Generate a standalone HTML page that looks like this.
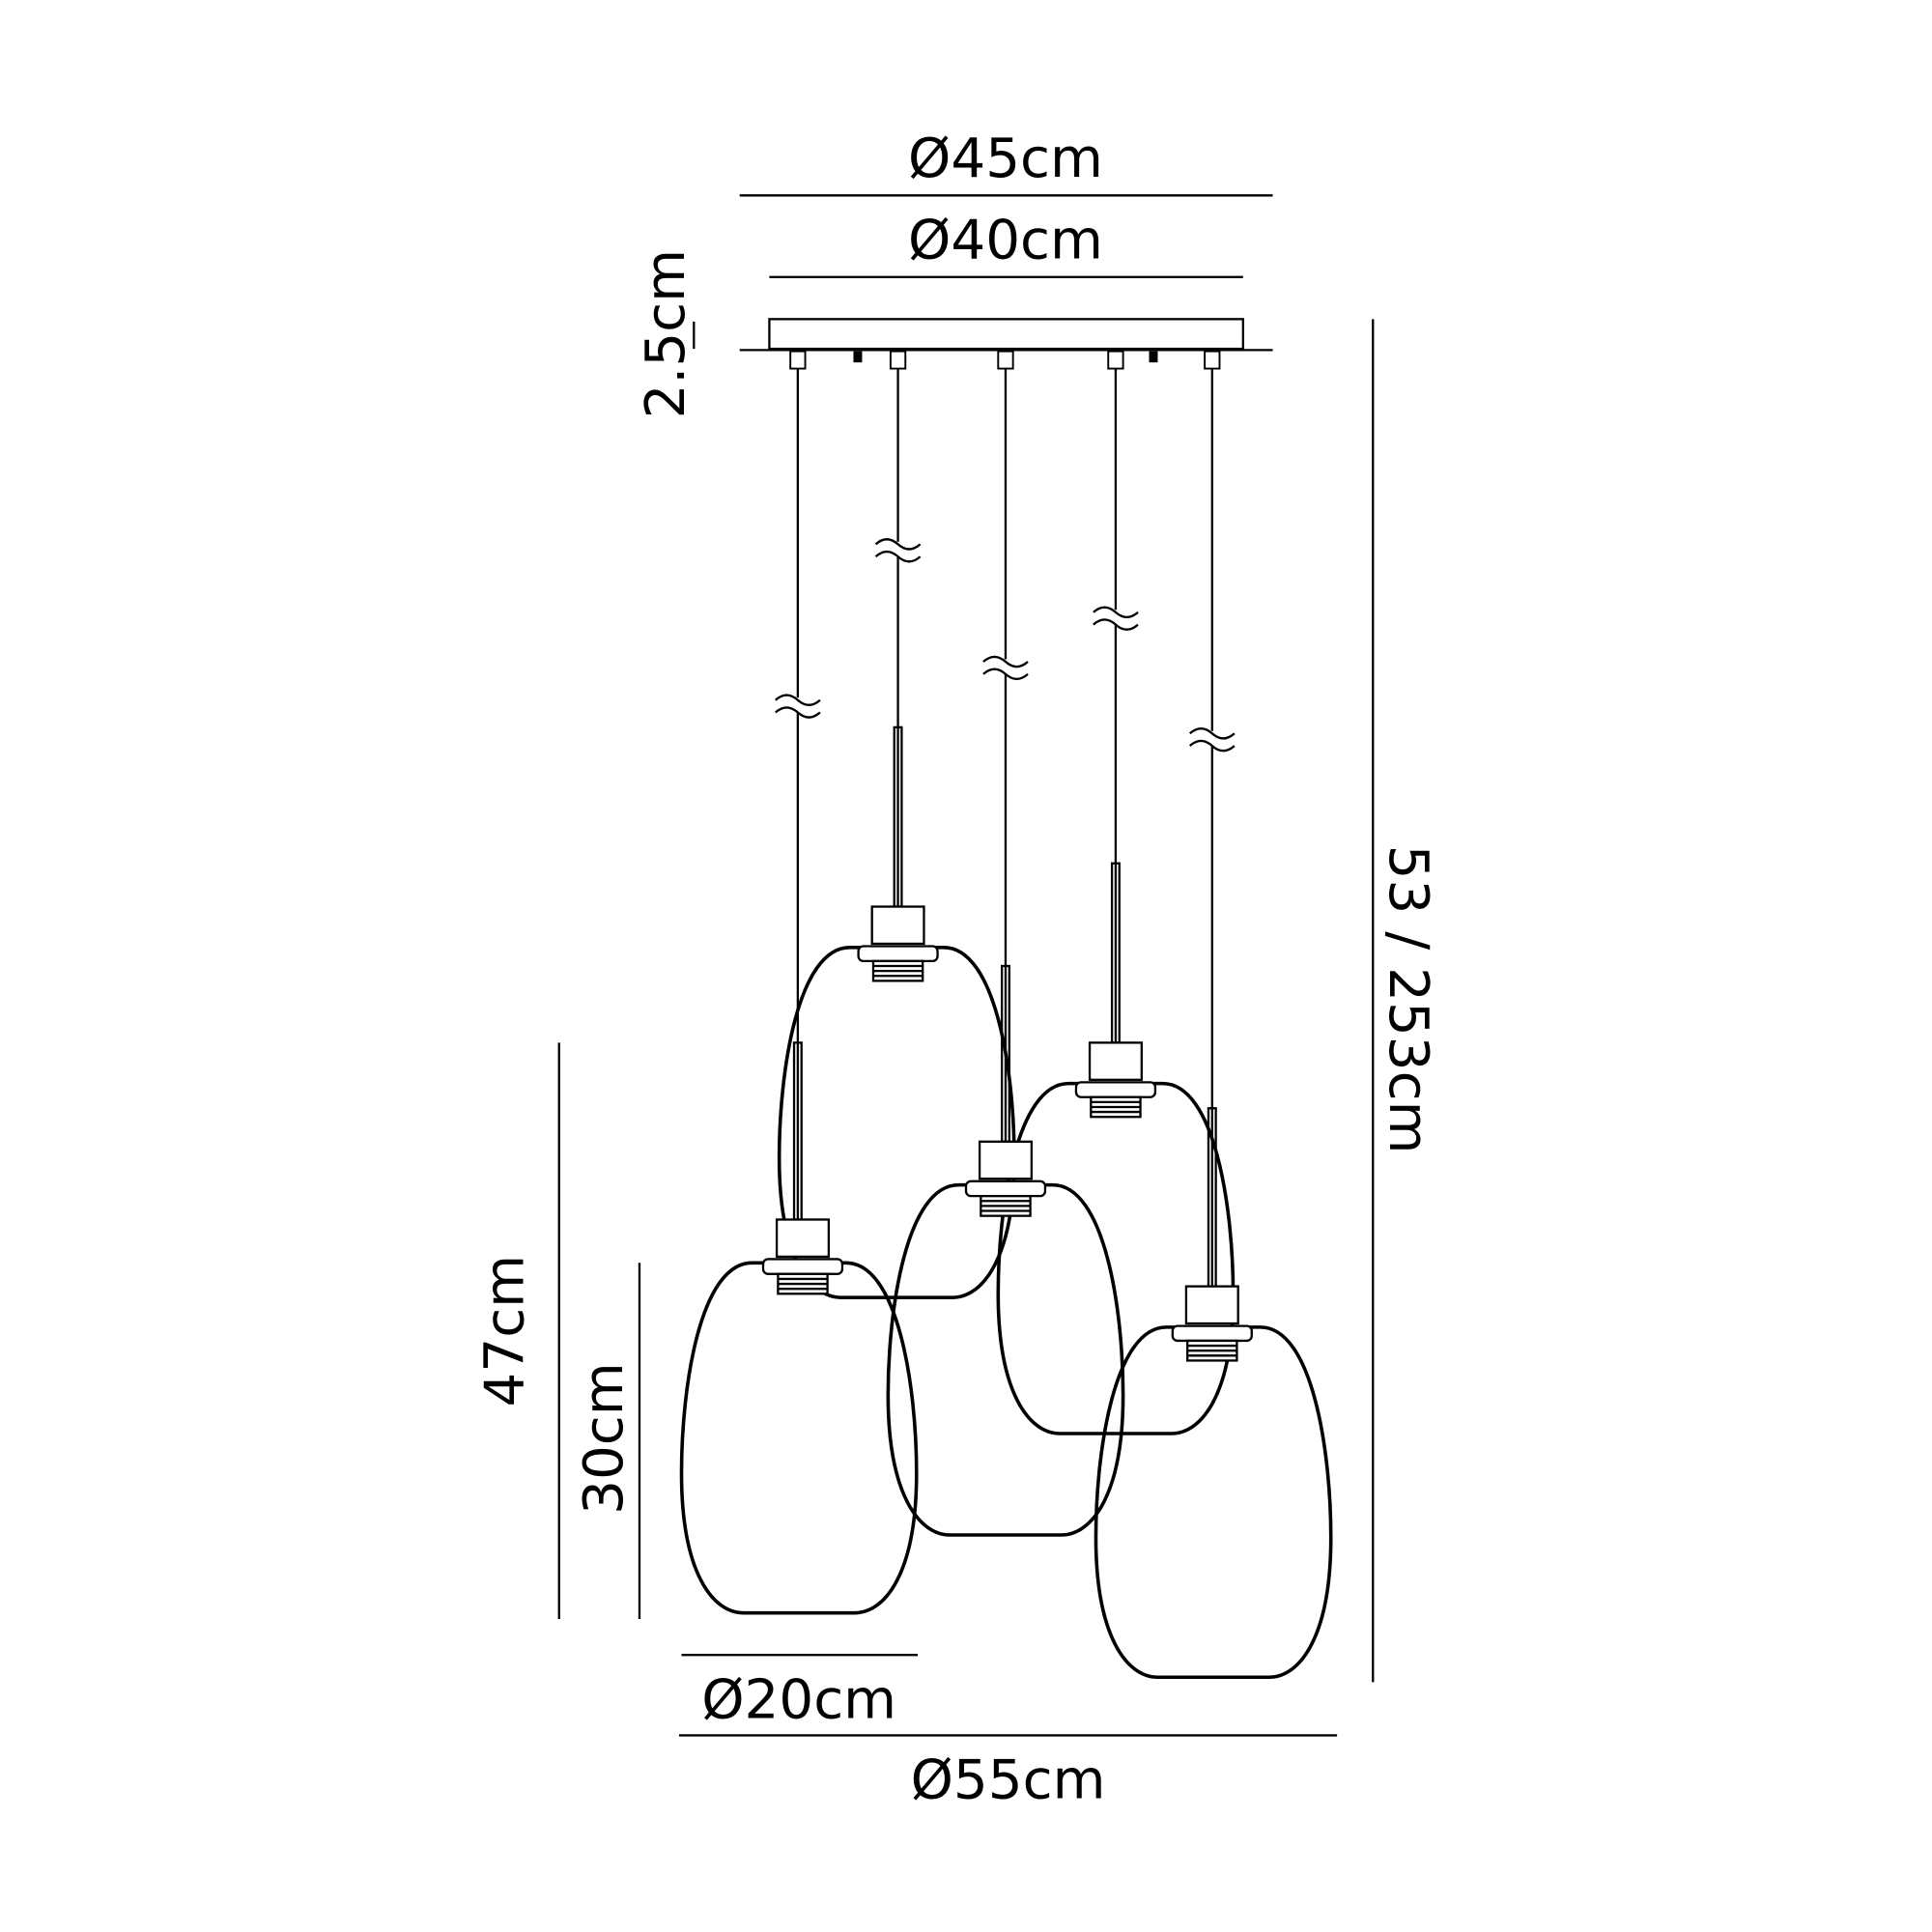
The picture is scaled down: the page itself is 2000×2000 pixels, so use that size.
<!DOCTYPE html>
<html><head><style>html,body{margin:0;padding:0;background:#fff}svg{display:block}</style></head><body>
<svg width="2000" height="2000" viewBox="0 0 1562 1562" xmlns="http://www.w3.org/2000/svg" font-family="DejaVu Sans, Liberation Sans, sans-serif" font-size="44" fill="#000">
<defs>
<g id="glass" fill="none" stroke="#000" stroke-width="2.8">
<path d="M-38,0 C-80,0 -95,100 -95,170 C-95,250 -70,283 -45,283 L45,283 C70,283 95,250 95,170 C95,100 80,0 38,0 Z" fill="none"/>
</g>
<g id="holder" fill="#fff" stroke="#000" stroke-width="1.8">
<rect x="-21" y="0" width="42" height="30"/>
<rect x="-32" y="32" width="64" height="12" rx="4"/>
<rect x="-20" y="44" width="40" height="16"/>
<line x1="-20" y1="48" x2="20" y2="48"/><line x1="-20" y1="52" x2="20" y2="52"/><line x1="-20" y1="56" x2="20" y2="56"/>
</g>
</defs>
<g transform="translate(-2,-2)">
<g stroke="#000" stroke-width="1.8" fill="none">
<line x1="600" y1="160" x2="1031" y2="160"/>
<line x1="624" y1="226" x2="1007" y2="226"/>
<line x1="1112" y1="260" x2="1112" y2="1362"/>
<line x1="454" y1="845" x2="454" y2="1311"/>
<line x1="519" y1="1023" x2="519" y2="1311"/>
<line x1="553" y1="1340" x2="744" y2="1340"/>
<line x1="551" y1="1405" x2="1083" y2="1405"/>
<line x1="563" y1="262" x2="563" y2="284"/>
<rect x="624" y="260" width="383" height="24"/>
<line x1="600" y1="285" x2="1031" y2="285"/>
<line x1="647" y1="300" x2="647" y2="988"/>
<line x1="728" y1="300" x2="728" y2="735"/>
<line x1="815" y1="300" x2="815" y2="925"/>
<line x1="904" y1="300" x2="904" y2="845"/>
<line x1="982" y1="300" x2="982" y2="1042"/>
<rect x="644" y="845" width="6" height="143"/>
<rect x="725" y="590" width="6" height="145"/>
<rect x="812" y="783" width="6" height="142"/>
<rect x="901" y="700" width="6" height="145"/>
<rect x="979" y="898" width="6" height="144"/>
</g>
<g fill="#fff" stroke="#000" stroke-width="1.5">
<rect x="641" y="286" width="12" height="14"/>
<rect x="722" y="286" width="12" height="14"/>
<rect x="809" y="286" width="12" height="14"/>
<rect x="898" y="286" width="12" height="14"/>
<rect x="976" y="286" width="12" height="14"/>
</g>
<rect x="692" y="286" width="7" height="9" fill="#000"/>
<rect x="931" y="286" width="7" height="9" fill="#000"/>
<g stroke="#000" stroke-width="1.8" fill="none">
<g transform="translate(647,572)"><rect x="-20" y="-6" width="40" height="12" fill="#fff" stroke="none"/><path d="M-18,-4 q9,-8 18,0 t18,0 M-18,6 q9,-8 18,0 t18,0"/></g>
<g transform="translate(728,446)"><rect x="-20" y="-6" width="40" height="12" fill="#fff" stroke="none"/><path d="M-18,-4 q9,-8 18,0 t18,0 M-18,6 q9,-8 18,0 t18,0"/></g>
<g transform="translate(815,541)"><rect x="-20" y="-6" width="40" height="12" fill="#fff" stroke="none"/><path d="M-18,-4 q9,-8 18,0 t18,0 M-18,6 q9,-8 18,0 t18,0"/></g>
<g transform="translate(904,501)"><rect x="-20" y="-6" width="40" height="12" fill="#fff" stroke="none"/><path d="M-18,-4 q9,-8 18,0 t18,0 M-18,6 q9,-8 18,0 t18,0"/></g>
<g transform="translate(982,599)"><rect x="-20" y="-6" width="40" height="12" fill="#fff" stroke="none"/><path d="M-18,-4 q9,-8 18,0 t18,0 M-18,6 q9,-8 18,0 t18,0"/></g>
</g>
<use href="#glass" transform="translate(727,768)"/>
<use href="#glass" transform="translate(904,878)"/>
<use href="#glass" transform="translate(815,960)"/>
<use href="#glass" transform="translate(648,1023)"/>
<use href="#glass" transform="translate(983,1075)"/>
<use href="#holder" transform="translate(728,735)"/>
<use href="#holder" transform="translate(904,845)"/>
<use href="#holder" transform="translate(815,925)"/>
<use href="#holder" transform="translate(651,988)"/>
<use href="#holder" transform="translate(982,1042)"/>
<g text-anchor="middle">
<text x="815" y="145">Ø45cm</text>
<text x="815" y="211">Ø40cm</text>
<text x="648" y="1391">Ø20cm</text>
<text x="817" y="1456">Ø55cm</text>
<text transform="translate(555,272) rotate(-90)">2.5cm</text>
<text transform="translate(425,1078) rotate(-90)">47cm</text>
<text transform="translate(505,1165) rotate(-90)">30cm</text>
<text transform="translate(1126,810) rotate(90)">53 / 253cm</text>
</g>
</g>
</svg>
</body></html>
